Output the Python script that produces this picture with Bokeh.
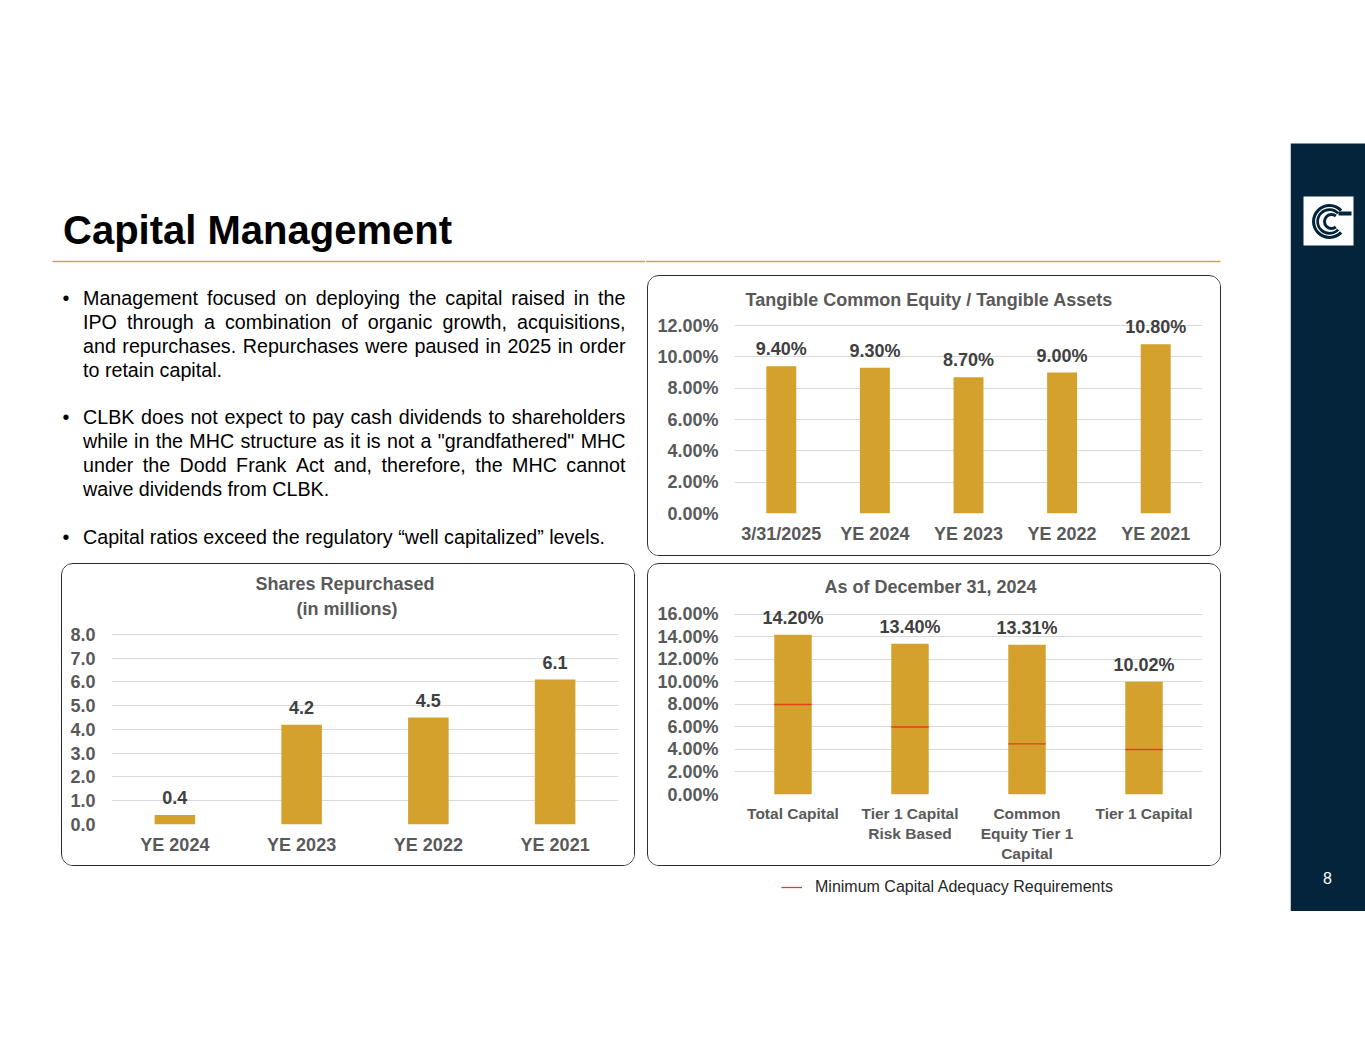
from bokeh.plotting import figure
from bokeh.models import (Range1d, FactorRange, ColumnDataSource, LabelSet, Title, FixedTicker,
                          PrintfTickFormatter, Legend, LegendItem, Spacer)
from bokeh.layouts import row, column
from bokeh.transform import dodge
from bokeh.core.properties import value
from bokeh.embed import file_html
from bokeh.resources import INLINE

FONT = "Liberation Sans"
GOLD = "#D3A12C"
NAVY = "#03243A"
AXIS_GRAY = "#595959"
LABEL_GRAY = "#404040"
GRID = "#D9D9D9"
RED = "#E2411B"
BOX_STYLE = {"border": "1.5px solid #2b2b2b", "border-radius": "12px", "overflow": "hidden"}

# ---------------- data ----------------
tce_title = "Tangible Common Equity / Tangible Assets"
tce_cats = ["3/31/2025", "YE 2024", "YE 2023", "YE 2022", "YE 2021"]
tce_vals = [9.40, 9.30, 8.70, 9.00, 10.80]
tce_ticks = [0, 2, 4, 6, 8, 10, 12]

shares_title = ["Shares Repurchased", "(in millions)"]
shares_cats = ["YE 2024", "YE 2023", "YE 2022", "YE 2021"]
shares_vals = [0.4, 4.2, 4.5, 6.1]
shares_ticks = [0, 1, 2, 3, 4, 5, 6, 7, 8]

cap_title = "As of December 31, 2024"
cap_cats = ["Total Capital", "Tier 1 Capital\nRisk Based", "Common\nEquity Tier 1\nCapital", "Tier 1 Capital"]
cap_vals = [14.20, 13.40, 13.31, 10.02]
cap_min = [8.0, 6.0, 4.5, 4.0]
cap_ticks = [0, 2, 4, 6, 8, 10, 12, 14, 16]
cap_legend = "Minimum Capital Adequacy Requirements"

slide_title = "Capital Management"
page_number = "8"

para1 = ["Management focused on deploying the capital raised in the",
         "IPO through a combination of organic growth, acquisitions,",
         "and repurchases. Repurchases were paused in 2025 in order",
         "to retain capital."]
para2 = ["CLBK does not expect to pay cash dividends to shareholders",
         "while in the MHC structure as it is not a \"grandfathered\" MHC",
         "under the Dodd Frank Act and, therefore, the MHC cannot",
         "waive dividends from CLBK."]
para3 = ["Capital ratios exceed the regulatory \u201cwell capitalized\u201d levels."]

# Arial / Liberation Sans advance widths (1/1000 em)
AW = {' ': 278, '!': 278, '"': 355, '%': 889, "'": 191, '(': 333, ')': 333, ',': 278, '-': 333,
      '.': 278, '/': 278, ':': 278, ';': 278, '\u201c': 333, '\u201d': 333,
      'A': 667, 'B': 667, 'C': 722, 'D': 722, 'E': 667, 'F': 611, 'G': 778, 'H': 722, 'I': 278,
      'J': 500, 'K': 667, 'L': 556, 'M': 833, 'N': 722, 'O': 778, 'P': 667, 'Q': 778, 'R': 722,
      'S': 667, 'T': 611, 'U': 722, 'V': 667, 'W': 944, 'X': 667, 'Y': 667, 'Z': 611,
      'a': 556, 'b': 556, 'c': 500, 'd': 556, 'e': 556, 'f': 278, 'g': 556, 'h': 556, 'i': 222,
      'j': 222, 'k': 500, 'l': 222, 'm': 833, 'n': 556, 'o': 556, 'p': 556, 'q': 556, 'r': 333,
      's': 500, 't': 278, 'u': 556, 'v': 500, 'w': 722, 'x': 500, 'y': 500, 'z': 500}


def tw(s, size):
    return sum(AW.get(c, 556) for c in s) * size / 1000.0


def blank(w, h, x0, x1, y_top, y_bot):
    p = figure(width=w, height=h, x_range=Range1d(x0, x1), y_range=Range1d(y_bot, y_top),
               output_backend="svg", toolbar_location=None, min_border=0, title=None)
    p.axis.visible = False
    p.grid.visible = False
    p.outline_line_color = None
    p.background_fill_color = "white"
    p.border_fill_color = "white"
    return p


# ---------------- left top: title, gold rule, bullets ----------------
lt = blank(645, 563, 0, 645, 0, 563)
lt.text(x=[62.5], y=[229], text=[slide_title], text_font=value(FONT), text_font_size="40px",
        text_font_style="bold", text_color="#000000", text_baseline="middle", text_align="left")
lt.segment(x0=[52], y0=[261], x1=[645], y1=[261], line_color="#D4A53C", line_width=1.5)

FS = 19.7
LEFT, RIGHT = 82.5, 625
xs, ys, ts = [], [], []
bx, by = [], []
for lines, top in ((para1, 297), (para2, 416), (para3, 536)):
    bx.append(62); by.append(top)
    for i, line in enumerate(lines):
        yc = top + 24 * i
        if i == len(lines) - 1:
            xs.append(LEFT); ys.append(yc); ts.append(line)
        else:
            words = line.split(" ")
            total = sum(tw(wd, FS) for wd in words)
            gap = (RIGHT - LEFT - total) / (len(words) - 1)
            x = LEFT
            for wd in words:
                xs.append(x); ys.append(yc); ts.append(wd)
                x += tw(wd, FS) + gap
lt.text(x=xs, y=ys, text=ts, text_font=value(FONT), text_font_size="19.7px", text_color="#000000",
        text_baseline="middle", text_align="left")
lt.text(x=bx, y=by, text=["\u2022"] * len(bx), text_font=value(FONT), text_font_size="19.7px",
        text_color="#000000", text_baseline="middle", text_align="left")

# right top: continuation of gold rule
rt = blank(645, 275, 645, 1290, 0, 275)
rt.segment(x0=[645], y0=[261], x1=[1220], y1=[261], line_color="#D4A53C", line_width=1.5)


# ---------------- charts ----------------
def chart(cats, vals, labels, w, h, fl, fr, ft, fb, yend, ticks, fmt, xfs, titles):
    p = figure(x_range=FactorRange(factors=cats), y_range=Range1d(0, yend), width=w, height=h,
               output_backend="svg", toolbar_location=None, title=None, styles=BOX_STYLE,
               min_border_left=fl, min_border_right=fr, min_border_top=ft, min_border_bottom=fb)
    p.background_fill_color = "white"
    p.border_fill_color = "white"
    p.outline_line_color = None
    p.xgrid.grid_line_color = None
    p.ygrid.grid_line_color = GRID
    p.ygrid.grid_line_width = 1
    p.yaxis.ticker = FixedTicker(ticks=ticks)
    p.yaxis.formatter = PrintfTickFormatter(format=fmt)
    for ax in (p.xaxis[0], p.yaxis[0]):
        ax.axis_line_color = None
        ax.major_tick_line_color = None
        ax.minor_tick_line_color = None
        ax.major_tick_out = 0
        ax.major_tick_in = 0
        ax.minor_tick_out = 0
        ax.major_label_text_font = FONT
        ax.major_label_text_font_style = "bold"
        ax.major_label_text_color = AXIS_GRAY
    p.yaxis.major_label_text_font_size = "18px"
    p.yaxis.major_label_standoff = 16
    p.xaxis.major_label_text_font_size = xfs
    p.xaxis.major_label_standoff = 10
    src = ColumnDataSource(dict(x=cats, top=vals, lab=labels))
    p.vbar(x="x", top="top", width=0.32, source=src, fill_color=GOLD, line_color=None)
    p.add_layout(LabelSet(x="x", y="top", text="lab", source=src, text_align="center",
                          text_baseline="alphabetic", y_offset=11, text_font=value(FONT),
                          text_font_size="18px", text_font_style="bold", text_color=LABEL_GRAY))
    for (tt, off, so) in titles:
        p.add_layout(Title(text=tt, align="left", offset=off, standoff=so, text_font=FONT,
                           text_font_size="18px", text_font_style="bold", text_color=AXIS_GRAY),
                     "above")
    return p


tce = chart(tce_cats, tce_vals, [f"{v:.2f}%" for v in tce_vals], 574, 281, 86, 20, 37, 44,
            12.77, tce_ticks, "%.2f%%", "18px", [(tce_title, 11, 8)])

shares = chart(shares_cats, shares_vals, [f"{v:.1f}" for v in shares_vals], 574, 303, 49, 18, 58, 43,
               8.505, shares_ticks, "%.1f", "18px",
               [(shares_title[1], 185, 8), (shares_title[0], 144, -3)])

cap = chart(cap_cats, cap_vals, [f"{v:.2f}%" for v in cap_vals], 574, 303, 86, 20, 36, 73,
            17.24, cap_ticks, "%.2f%%", "15.5px", [(cap_title, 90, 7)])
msrc = ColumnDataSource(dict(x=cap_cats, m=cap_min))
cap.segment(x0=dodge("x", -0.16, range=cap.x_range), x1=dodge("x", 0.16, range=cap.x_range),
            y0="m", y1="m", source=msrc, line_color=RED, line_width=1.3)

# legend strip under the capital chart (key glyph only, no visible data)
lg = blank(645, 45, 645, 1290, 866, 911)
nan = float("nan")
key = lg.segment(x0=[nan], y0=[nan], x1=[nan], y1=[nan], line_color=RED, line_width=1.3)
leg = Legend(items=[LegendItem(label=cap_legend, renderers=[key])], location=(136, 14),
             orientation="horizontal", border_line_color=None, background_fill_alpha=0,
             padding=0, margin=0, glyph_width=21, label_standoff=13,
             label_text_font=FONT, label_text_font_size="16px", label_text_color="#262626")
lg.add_layout(leg)

# ---------------- sidebar ----------------
sb = blank(75, 911, 1290, 1365, 0, 911)
sb.quad(left=[1290], right=[1365], top=[143], bottom=[911], fill_color=NAVY, line_color=None)
sb.quad(left=[1303], right=[1353], top=[196], bottom=[245], fill_color="white", line_color=None)
sb.annular_wedge(x=[1329], y=[221], inner_radius=10.5, outer_radius=17.5, start_angle=0.75,
                 end_angle=5.53, fill_color=NAVY, line_color=None)
sb.annular_wedge(x=[1329], y=[221], inner_radius=13.2, outer_radius=14.4, start_angle=0.75,
                 end_angle=5.53, fill_color="white", line_color=None)
sb.annular_wedge(x=[1331], y=[221], inner_radius=5.5, outer_radius=8.5, start_angle=0.9,
                 end_angle=5.38, fill_color=NAVY, line_color=None)
sb.quad(left=[1338], right=[1351], top=[211], bottom=[215], fill_color=NAVY, line_color=None)
sb.text(x=[1327], y=[877], text=[page_number], text_font=value(FONT), text_font_size="16px",
        text_color="white", text_align="center", text_baseline="middle")

left_col = column(lt,
                  row(Spacer(width=61, height=303), shares),
                  Spacer(width=645, height=45))
right_col = column(rt,
                   row(Spacer(width=2, height=281), tce),
                   Spacer(width=645, height=7),
                   row(Spacer(width=2, height=303), cap),
                   lg)
layout = row(left_col, right_col, sb)

open("out.html", "w").write(file_html(layout, INLINE))
